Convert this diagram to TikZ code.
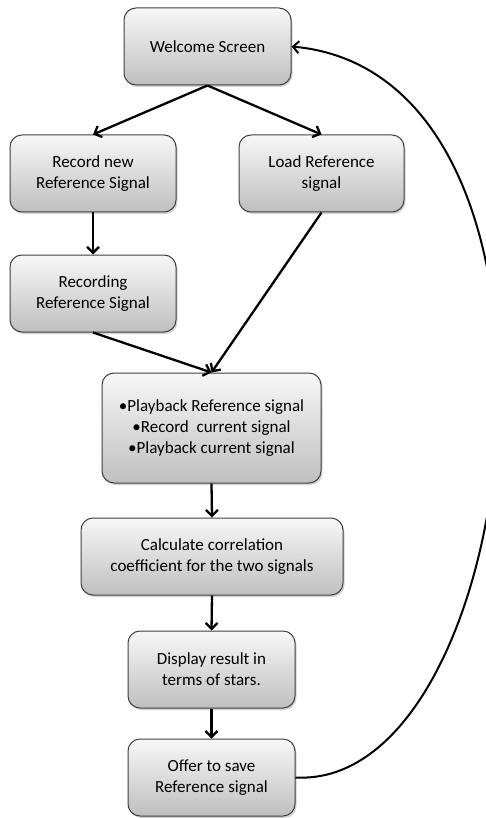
\documentclass[tikz,border=0pt]{standalone}
\usepackage{fontspec}
\setmainfont{Carlito}
\usetikzlibrary{arrows.meta,shadows}
\begin{document}
\begin{tikzpicture}[x=1pt,y=-1pt,
  box/.style={draw=black!75, line width=1pt, rounded corners=12pt,
    top color=gray!6, bottom color=gray!50,
    drop shadow={shadow xshift=1.5pt, shadow yshift=-2pt, fill=black!35, opacity=0.5},
    align=center, font=\fontsize{17}{21}\selectfont, inner sep=0pt},
  arr/.style={line width=2.3pt, -{Straight Barb[length=6pt,width=12pt,line width=2.3pt]}},
]
\useasboundingbox (0,0) rectangle (485,818);
\node[box, minimum width=167pt, minimum height=77pt] (w) at (207.5,46.5) {Welcome Screen};
\node[box, minimum width=166pt, minimum height=77pt] (rn) at (93,173.5) {Record new\\Reference Signal};
\node[box, minimum width=165pt, minimum height=77pt] (ld) at (321.5,173.5) {Load Reference\\signal};
\node[box, minimum width=166pt, minimum height=77pt] (rc) at (93,293.5) {Recording\\Reference Signal};
\node[box, minimum width=219pt, minimum height=110pt] (pb) at (211.5,428) {•Playback Reference signal\\•Record\ \ current signal\\•Playback current signal};
\node[box, minimum width=262pt, minimum height=77pt] (cc) at (212,556.5) {Calculate correlation\\coefficient for the two signals};
\node[box, minimum width=167pt, minimum height=77pt] (ds) at (211.5,669.5) {Display result in\\terms of stars.};
\node[box, minimum width=167pt, minimum height=77pt] (of) at (211.5,777.5) {Offer to save\\Reference signal};
\draw[arr] (w.south) -- (rn.north);
\draw[arr] (w.south) -- (ld.north);
\draw[arr] (rn.south) -- (rc.north);
\draw[arr] (ld.south) -- (pb.north);
\draw[arr] (rc.south) -- (pb.north);
\draw[arr] (pb.south) -- (cc.north);
\draw[arr] (cc.south) -- (ds.north);
\draw[arr] (ds.south) -- (of.north);
\draw[line width=2pt, -{Straight Barb[length=6pt,width=12pt,line width=2pt]}] (of.east) .. controls (525,790) and (605,75) .. (w.east);
\end{tikzpicture}
\end{document}
